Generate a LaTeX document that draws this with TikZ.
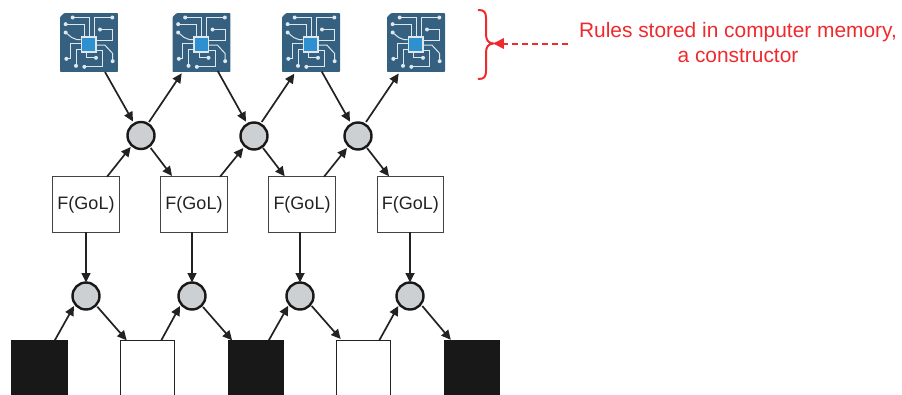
\documentclass[tikz,border=0pt]{standalone}
\usepackage{fontspec}
\setmainfont{Liberation Sans}
\usetikzlibrary{arrows.meta,calc}
\definecolor{ink}{HTML}{222222}
\definecolor{boxblack}{HTML}{181818}
\definecolor{disc}{HTML}{CDD0D3}
\definecolor{chipbg}{HTML}{35607F}
\definecolor{chipblue}{HTML}{2F90CF}
\definecolor{trace}{HTML}{DCE7EE}
\definecolor{redink}{HTML}{EE2A2E}
\tikzset{
  x=1pt,y=-1pt,
  chipbox/.style={rectangle,minimum width=58pt,minimum height=59pt,inner sep=0pt,outer sep=0pt},
  disk/.style={circle,draw=boxblack,fill=disc,line width=2.4pt,minimum size=27pt,inner sep=0pt,outer sep=0pt},
  rulebox/.style={rectangle,draw=ink!85!white,fill=white,line width=1pt,minimum width=66.5pt,minimum height=55.5pt,inner sep=0pt,outer sep=0pt,font=\fontsize{18pt}{20pt}\selectfont,text=ink},
  cellblack/.style={rectangle,fill=boxblack,draw=boxblack,line width=.6pt,anchor=north west,minimum height=60pt,inner sep=0pt,outer sep=0pt},
  cellwhite/.style={rectangle,fill=white,draw=ink,line width=1pt,anchor=north west,minimum height=60pt,inner sep=0pt,outer sep=0pt},
  flow/.style={draw=ink,line width=1.7pt,-{Triangle[length=9.5pt,width=9pt]}},
  tr/.style={draw=trace,line width=1pt},
  redline/.style={draw=redink,line width=2pt,line cap=round},
  redhead/.style={fill=redink,draw=none},
}
\newcommand{\chipart}[1]{%
  \begin{scope}[shift={(#1)},x=.3333pt,y=-.3333pt]
    \fill[chipbg,rounded corners=.8pt] (-75,-88) -- (87,-88) -- (87,88) -- (-87,88) -- (-87,-76) -- cycle;
    \draw[tr] (-49,-75) -- (0,-75) -- (0,-19);
    \draw[tr] (70,-75) -- (15,-75) -- (15,-19);
    \draw[tr] (-70,-55) -- (-15,-55) -- (-15,-19);
    \draw[tr] (33,-39) -- (71,-39) -- (71,-7) -- (23,-7);
    \draw[tr] (-70,-30) -- (-52,-15) -- (-37,-9) -- (-25,-9);
    \draw[tr] (-68,49) -- (-57,49) -- (-57,3) -- (-25,3);
    \draw[tr] (-39,70) -- (-39,21) -- (-25,21);
    \draw[tr] (-14,73) -- (41,73) -- (41,23) -- (23,23);
    \draw[tr] (21,46) -- (-7,46) -- (-7,31);
    \draw[tr] (23,8) -- (48,8) -- (71,33) -- (71,56);
    \foreach \p in {(-49,-75),(70,-75),(-70,-55),(33,-39),(-70,-30),(-68,49),(-39,70),(-14,73),(21,46),(71,56)}
      \fill[trace] \p circle (6);
    \fill[trace] (-25,-19) rectangle (23,31);
    \fill[chipblue] (-20,-14) rectangle (18,26);
  \end{scope}}
\begin{document}
\begin{tikzpicture}
\useasboundingbox (0,0) rectangle (902,394);
% chips
\node[chipbox] (chipa) at (89,42.5) {};
\node[chipbox] (chipb) at (201.5,42.5) {};
\node[chipbox] (chipc) at (311,42.5) {};
\node[chipbox] (chipd) at (416,42.5) {};
\chipart{chipa.center}\chipart{chipb.center}\chipart{chipc.center}\chipart{chipd.center}
% upper discs
\node[disk] (ua) at (141,135.5) {};
\node[disk] (ub) at (254,136) {};
\node[disk] (uc) at (358,136) {};
% lower discs
\node[disk] (la) at (86,296) {};
\node[disk] (lb) at (192,296) {};
\node[disk] (lc) at (300,296) {};
\node[disk] (ld) at (410,296) {};
% rule boxes
\node[rulebox] (fa) at (86,204.5) {F(GoL)};
\node[rulebox] (fb) at (194,204.5) {F(GoL)};
\node[rulebox] (fc) at (302,204.5) {F(GoL)};
\node[rulebox] (fd) at (410.3,204.5) {F(GoL)};
% cells
\node[cellblack,minimum width=55.6pt] (ca) at (11.6,340.3) {};
\node[cellwhite,minimum width=54.4pt] (cb) at (120.3,340.3) {};
\node[cellblack,minimum width=55.6pt] (cc) at (228,340.3) {};
\node[cellwhite,minimum width=54pt] (cd) at (336.7,340.3) {};
\node[cellblack,minimum width=55.6pt] (ce) at (444,340.3) {};
% chips <-> upper discs
\draw[flow] ($(chipa.center)+(16,29.5)$) -- ($(ua.center)+(-8,-14)$);
\draw[flow] ($(ua.center)+(8,-13.5)$) -- ($(chipb.center)+(-19.8,30.8)$);
\draw[flow] ($(chipb.center)+(16.2,28.5)$) -- ($(ub.center)+(-8,-14.3)$);
\draw[flow] ($(ub.center)+(7.7,-14)$) -- ($(chipc.center)+(-16.7,31.2)$);
\draw[flow] ($(chipc.center)+(10.7,29)$) -- ($(uc.center)+(-8,-14.3)$);
\draw[flow] ($(uc.center)+(8,-14)$) -- ($(chipd.center)+(-17.3,31)$);
% upper discs <-> boxes
\draw[flow] ($(fa.north)+(21,0)$) -- ($(ua.center)+(-10.3,11.5)$);
\draw[flow] ($(ua.center)+(9.7,12.5)$) -- ($(fb.north)+(-22,-.8)$);
\draw[flow] ($(fb.north)+(26,0)$) -- ($(ub.center)+(-10.7,12)$);
\draw[flow] ($(ub.center)+(9,12)$) -- ($(fc.north)+(-17.3,-.5)$);
\draw[flow] ($(fc.north)+(22,0)$) -- ($(uc.center)+(-11,12)$);
\draw[flow] ($(uc.center)+(9,12)$) -- ($(fd.north)+(-21.3,-.5)$);
% boxes -> lower discs
\draw[flow] (fa.south) -- (la.north);
\draw[flow] (fb.south -| lb.north) -- (lb.north);
\draw[flow] (fc.south -| lc.north) -- (lc.north);
\draw[flow] (fd.south -| ld.north) -- (ld.north);
% cells <-> lower discs
\draw[flow] ($(ca.north west)+(43.2,0)$) -- ($(la.center)+(-12,10)$);
\draw[flow] ($(la.center)+(11.3,10.7)$) -- ($(cb.north west)+(6.4,0)$);
\draw[flow] ($(cb.north west)+(41,0)$) -- ($(lb.center)+(-12,10)$);
\draw[flow] ($(lb.center)+(11,11)$) -- ($(cc.north west)+(4.1,0)$);
\draw[flow] ($(cc.north west)+(40.8,0)$) -- ($(lc.center)+(-11.7,9.7)$);
\draw[flow] ($(lc.center)+(11.7,10)$) -- ($(cd.north west)+(4,-1.3)$);
\draw[flow] ($(cd.north west)+(42.6,0)$) -- ($(ld.center)+(-11.7,10)$);
\draw[flow] ($(ld.center)+(12.3,10)$) -- ($(ce.north west)+(6.8,-.5)$);
% brace
\coordinate (bracetip) at (493.3,43.5);
\coordinate (redfree) at (568,43.5);
\draw[redline] (478.5,10) .. controls (484,10) and (486,12) .. (486,18) -- (486,34)
  .. controls (486,40) and (488,43) .. (bracetip)
  .. controls (488,44) and (486,47) .. (486,53) -- (486,71)
  .. controls (486,77) and (484,79) .. (478.5,79);
% dashed pointer, each dash a filled bar, and its head
\foreach \d in {0,...,6}
  \fill[redink] ($(redfree)+(-\d*10,-1)$) rectangle ($(redfree)+(-\d*10-6,1)$);
\fill[redhead] (bracetip) -- ++(10.5,-5.5) -- ++(0,11) -- cycle;
% label
\node[text=redink,align=center,font=\fontsize{20.9pt}{24.3pt}\selectfont,inner sep=0pt] (lbl) at (738,42.5)
  {Rules stored in computer memory,\\a constructor};
\end{tikzpicture}
\end{document}
